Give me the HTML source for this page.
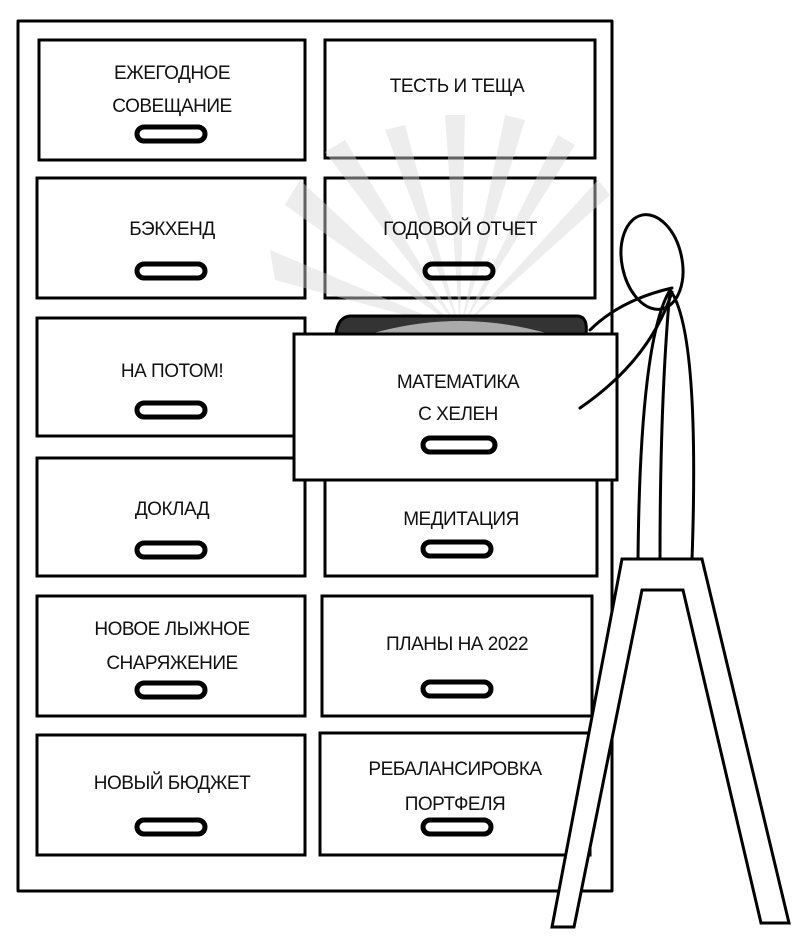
<!DOCTYPE html><html><head><meta charset="utf-8"><style>body{margin:0;background:#fff}svg{display:block}text{font-family:"Liberation Sans Narrow","Liberation Sans",sans-serif;font-size:19px;fill:#111;text-anchor:middle;letter-spacing:-0.5px}</style></head><body>
<svg width="800" height="948" viewBox="0 0 800 948" xmlns="http://www.w3.org/2000/svg">
<g fill="none" stroke="#000" stroke-width="3" stroke-linejoin="round">
<rect x="18" y="21" width="594" height="870"/>
</g>
<g fill="#fff" stroke="#000" stroke-width="3">
<rect x="39" y="40" width="266" height="120"/><rect x="325" y="40" width="270" height="118"/>
<rect x="37" y="178" width="268" height="120"/><rect x="325" y="178" width="270" height="120"/>
<rect x="37" y="318" width="268" height="118"/>
<rect x="37" y="458" width="268" height="118"/><rect x="325" y="478" width="272" height="98"/>
<rect x="37" y="596" width="268" height="120"/><rect x="322" y="596" width="270" height="120"/>
<rect x="37" y="735" width="268" height="120"/><rect x="320" y="733" width="270" height="122"/>
</g>
<g fill="#d8d8d8" opacity="0.45">
<polygon points="460,330 270,250 275,280"/><polygon points="460,330 300,180 285,205"/><polygon points="460,330 345,140 325,152"/><polygon points="460,330 405,125 385,130"/><polygon points="460,330 465,115 445,115"/><polygon points="460,330 525,120 505,115"/><polygon points="460,330 575,145 558,135"/><polygon points="460,330 610,195 598,180"/>
</g>
<path d="M336,334 Q338,317 350,316 L578,316 Q588,317 586,334 Z" fill="#333" stroke="#000" stroke-width="3"/>
<path d="M370,334 Q460,308 550,334 Z" fill="#aaa"/>
<rect x="294" y="334" width="323" height="146" fill="#fff" stroke="#000" stroke-width="3"/>
<g fill="none" stroke="#000" stroke-width="5">
<rect x="137" y="127" width="68" height="14" rx="7"/><rect x="137" y="264" width="68" height="14" rx="7"/><rect x="137" y="403" width="68" height="14" rx="7"/><rect x="137" y="543" width="68" height="14" rx="7"/><rect x="137" y="683" width="68" height="14" rx="7"/><rect x="137" y="820" width="68" height="14" rx="7"/>
<rect x="425" y="264" width="68" height="14" rx="7"/><rect x="423" y="438" width="72" height="14" rx="7"/><rect x="423" y="542" width="68" height="14" rx="7"/><rect x="423" y="682" width="68" height="14" rx="7"/><rect x="423" y="820" width="68" height="14" rx="7"/>
</g>
<text x="172" y="79">ЕЖЕГОДНОЕ</text><text x="172" y="112">СОВЕЩАНИЕ</text>
<text x="457" y="92">ТЕСТЬ И ТЕЩА</text>
<text x="172" y="235">БЭКХЕНД</text><text x="460" y="235">ГОДОВОЙ ОТЧЕТ</text>
<text x="172" y="377">НА ПОТОМ!</text>
<text x="458" y="388">МАТЕМАТИКА</text><text x="458" y="420">С ХЕЛЕН</text>
<text x="172" y="515">ДОКЛАД</text><text x="461" y="525">МЕДИТАЦИЯ</text>
<text x="172" y="635">НОВОЕ ЛЫЖНОЕ</text><text x="172" y="669">СНАРЯЖЕНИЕ</text>
<text x="457" y="650">ПЛАНЫ НА 2022</text>
<text x="172" y="789">НОВЫЙ БЮДЖЕТ</text>
<text x="455" y="775">РЕБАЛАНСИРОВКА</text><text x="455" y="810">ПОРТФЕЛЯ</text>
<g fill="none" stroke="#000" stroke-width="3" stroke-linecap="round">
<ellipse cx="652" cy="262" rx="30" ry="48" transform="rotate(-12 652 262)"/>
<path d="M670,290 Q700,330 692,560"/>
<path d="M670,290 Q660,400 660,560"/>
<path d="M670,290 Q640,340 638,560"/>
<path d="M672,288 Q620,300 590,330"/>
<path d="M672,292 Q650,360 580,408"/>
<path d="M622,559 L702,559 L789,923 L761,923 L683,590 L642,590 L574,927 L552,927 Z" fill="#fff"/>
</g>
</svg></body></html>
